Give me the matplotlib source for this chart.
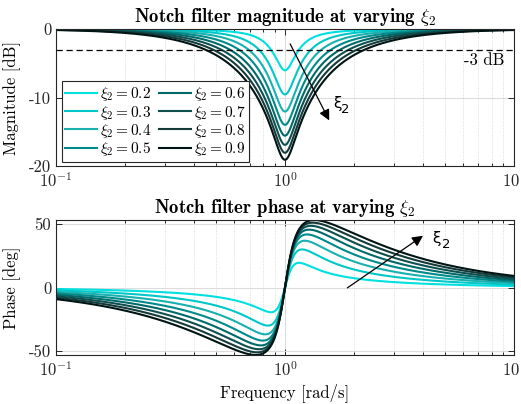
import numpy as np
import matplotlib
matplotlib.use('Agg')
import matplotlib.pyplot as plt
from matplotlib.ticker import LogLocator, NullFormatter, FixedLocator

# notch filter parameters (shown in legend)
xi1 = 0.1
xi2_vals = [0.2, 0.3, 0.4, 0.5, 0.6, 0.7, 0.8, 0.9]
wn = 1.0
# line colours, cyan -> black
colors = ['#00e0e0', '#00c8c8', '#19b0b0', '#008a8a', '#006a6a', '#0e5050', '#153a3a', '#001414']

plt.rcParams['font.family'] = 'cmr10'
plt.rcParams['mathtext.fontset'] = 'cm'
plt.rcParams['axes.unicode_minus'] = False

w = np.logspace(-1, 1, 800)
s = 1j * w

fig = plt.figure(figsize=(5.21, 4.04), dpi=100)
ax1 = fig.add_axes([0.1075, 0.589, 0.879, 0.339])
ax2 = fig.add_axes([0.1075, 0.1213, 0.879, 0.334])

ph_all = []
for xi2, c in zip(xi2_vals, colors):
    H = (s**2 + 2*xi1*wn*s + wn**2) / (s**2 + 2*xi2*wn*s + wn**2)
    mag = 20*np.log10(np.abs(H))
    ph = np.degrees(np.angle(H))
    ph_all.append(ph)
    ax1.semilogx(w, mag, color=c, lw=1.5, label=r'$\xi_2 = %.1f$' % xi2)
    ax2.semilogx(w, ph, color=c, lw=1.5)
ph_all = np.array(ph_all)

ax1.axhline(-3, color='k', ls='--', lw=0.9, dashes=(5, 3))
ax1.text(9.1, -4.6, '-3 dB', ha='right', va='center', fontsize=12)

ax1.set_xlim(0.1, 10)
ax1.set_ylim(-20, 0)
ax1.set_yticks([0, -10, -20])
ax1.set_yticklabels(['0', '-10', '-20'])
ax2.set_xlim(0.1, 10)
ax2.set_ylim(ph_all.min(), ph_all.max())
ax2.set_yticks([-50, 0, 50])
ax2.set_yticklabels(['-50', '0', '50'])

for ax in (ax1, ax2):
    ax.xaxis.set_major_locator(FixedLocator([0.1, 1, 10]))
    ax.xaxis.set_minor_locator(LogLocator(base=10, subs=np.arange(2, 10)))
    ax.xaxis.set_minor_formatter(NullFormatter())
    ax.set_xticklabels([r'$10^{-1}$', r'$10^{0}$', r'$10^{1}$'])
    ax.tick_params(which='both', direction='in', top=True, right=True,
                   labelsize=12, colors='#262626', width=0.7)
    ax.tick_params(which='major', length=4)
    ax.tick_params(which='minor', length=2)
    ax.grid(True, which='major', color='#dcdcdc', lw=0.8, ls='-')
    ax.grid(True, which='minor', axis='x', color='#d0d0d0', lw=0.6, ls=':')
    ax.set_axisbelow(True)
    for sp in ax.spines.values():
        sp.set_color('#262626')
        sp.set_linewidth(0.8)

ax1.set_title(r'Notch filter magnitude at varying $\xi_2$', fontfamily='cmb10', fontsize=13.5, pad=5)
ax2.set_title(r'Notch filter phase at varying $\xi_2$', fontfamily='cmb10', fontsize=13.5, pad=5)
ax1.set_ylabel('Magnitude [dB]', fontsize=12, labelpad=6)
ax2.set_ylabel('Phase [deg]', fontsize=12, labelpad=6)
ax2.set_xlabel('Frequency [rad/s]', fontsize=12, labelpad=3)

leg = ax1.legend(ncol=2, loc='lower left', bbox_to_anchor=(0.012, 0.03), fontsize=11,
                 fancybox=False, edgecolor='#262626', framealpha=1, handlelength=2.1,
                 handletextpad=0.2, columnspacing=0.45, labelspacing=0.02, borderpad=0.25,
                 borderaxespad=0)
leg.get_frame().set_linewidth(0.8)

# arrows showing increasing xi2
ax1.annotate('', xy=(1.58, -13.7), xytext=(1.04, -1.8),
             arrowprops=dict(arrowstyle='-|>', color='k', lw=0.9, mutation_scale=16))
ax1.text(1.62, -10.8, 'ξ', fontfamily='DejaVu Sans', fontsize=11, va='center')
ax1.text(1.76, -11.7, '2', fontfamily='DejaVu Sans', fontsize=9.5, va='center')
ax2.annotate('', xy=(4.1, 42), xytext=(1.83, -1.5),
             arrowprops=dict(arrowstyle='-|>', color='k', lw=0.9, mutation_scale=16))
ax2.text(4.4, 38.5, 'ξ', fontfamily='DejaVu Sans', fontsize=11, va='center')
ax2.text(4.85, 33.5, '2', fontfamily='DejaVu Sans', fontsize=9.5, va='center')

fig.savefig('out.png', dpi=100)
